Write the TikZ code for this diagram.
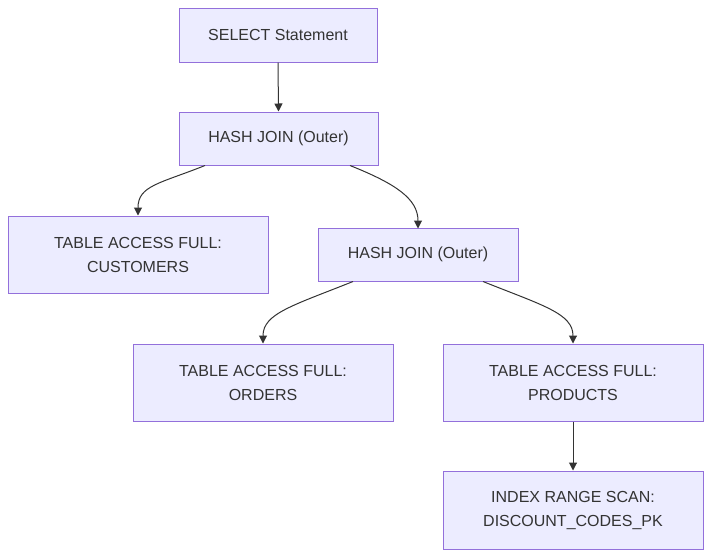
\documentclass[tikz,border=0pt]{standalone}
\usepackage{fontspec}
\setmainfont{Liberation Sans}
\usetikzlibrary{arrows.meta}
\definecolor{boxfill}{HTML}{ECECFF}
\definecolor{boxline}{HTML}{9370DB}
\definecolor{ink}{HTML}{333333}
\tikzset{
  planbox/.style={draw=boxline, fill=boxfill, line width=1pt, text=ink,
    align=center, font=\fontsize{16}{24}\selectfont, inner sep=0pt},
  edge/.style={draw=ink, line width=1pt, -{Triangle[length=8pt,width=8pt]}}
}
\begin{document}
\begin{tikzpicture}[x=1pt,y=-1pt]
\useasboundingbox (0,0) rectangle (711,558);

% plan steps
\node[planbox, minimum width=198, minimum height=54] (sel) at (278,35) {SELECT Statement};
\node[planbox, minimum width=199, minimum height=53] (hjA) at (278.5,138.5) {HASH JOIN (Outer)};
\node[planbox, minimum width=260, minimum height=77] (cust) at (138,254.5) {TABLE ACCESS FULL:\\CUSTOMERS};
\node[planbox, minimum width=200, minimum height=53] (hjB) at (418,254.5) {HASH JOIN (Outer)};
\node[planbox, minimum width=260, minimum height=77] (ord) at (263,382.5) {TABLE ACCESS FULL:\\ORDERS};
\node[planbox, minimum width=260, minimum height=77] (prod) at (573,382.5) {TABLE ACCESS FULL:\\PRODUCTS};
\node[planbox, minimum width=260, minimum height=78] (idx) at (573,510) {INDEX RANGE SCAN:\\DISCOUNT\_CODES\_PK};

% edges
\draw[edge] (sel.south) -- (hjA.north);
\draw[edge] ([xshift=-73.5]hjA.south) .. controls +(-45,18) and +(0,-30) .. (cust.north);
\draw[edge] ([xshift=71.5]hjA.south) .. controls +(45,18) and +(0,-30) .. ([yshift=-1]hjB.north);
\draw[edge] ([xshift=-65]hjB.south) .. controls +(-60,24) and +(0,-30) .. (ord.north);
\draw[edge] ([xshift=65]hjB.south) .. controls +(60,24) and +(0,-30) .. (prod.north);
\draw[edge] (prod.south) -- (idx.north);

\end{tikzpicture}
\end{document}
